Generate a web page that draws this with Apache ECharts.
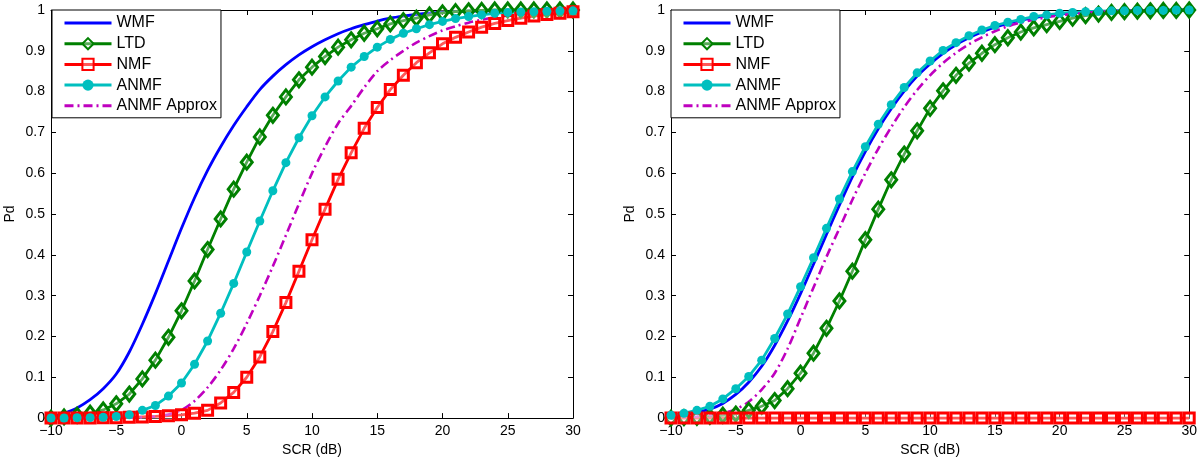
<!DOCTYPE html>
<html>
<head>
<meta charset="utf-8">
<script src="https://cdn.jsdelivr.net/npm/echarts@6/dist/echarts.min.js"></script>
<style>
html,body{margin:0;padding:0;background:#fff;}
#c{width:1200px;height:462px;}
</style>
</head>
<body>
<div id="c"></div>
<script>
// ---- data ----
const scr = [-10,-9,-8,-7,-6,-5,-4,-3,-2,-1,0,1,2,3,4,5,6,7,8,9,10,11,12,13,14,15,16,17,18,19,20,21,22,23,24,25,26,27,28,29,30];
const xTicks = [-10,-5,0,5,10,15,20,25,30];
const seriesNames = ['WMF','LTD','NMF','ANMF','ANMF Approx'];

// left panel
const wmfL = [0.003,0.012,0.025,0.045,0.072,0.108,0.162,0.23,0.305,0.385,0.465,0.54,0.607,0.665,0.717,0.763,0.805,0.838,0.866,0.89,0.91,0.927,0.942,0.954,0.964,0.973,0.98,0.985,0.989,0.992,0.994,0.996,0.997,0.998,0.998,0.999,0.999,0.999,1,1,1];
const ltdL = [0,0.003,0.007,0.012,0.02,0.035,0.059,0.096,0.142,0.198,0.263,0.336,0.413,0.488,0.561,0.627,0.689,0.742,0.787,0.829,0.86,0.886,0.909,0.927,0.943,0.954,0.966,0.974,0.98,0.988,0.993,0.996,0.998,0.999,1,1,1,1,1,1,1];
const nmfL = [0,0,0,0,0.001,0.001,0.002,0.003,0.004,0.006,0.008,0.012,0.019,0.037,0.063,0.1,0.15,0.212,0.283,0.36,0.437,0.512,0.585,0.65,0.71,0.761,0.805,0.84,0.871,0.895,0.917,0.933,0.946,0.958,0.967,0.974,0.98,0.985,0.989,0.992,0.996];
const anmfL = [0,0,0.001,0.001,0.002,0.004,0.008,0.019,0.031,0.054,0.086,0.132,0.189,0.257,0.33,0.407,0.483,0.557,0.626,0.687,0.741,0.787,0.826,0.86,0.886,0.909,0.928,0.943,0.954,0.964,0.972,0.979,0.984,0.988,0.992,0.994,0.995,0.996,0.997,0.998,0.998];
const approxL = [0,0,0,0,0,0,0.001,0.002,0.004,0.009,0.02,0.042,0.075,0.118,0.17,0.232,0.3,0.372,0.448,0.525,0.6,0.665,0.722,0.765,0.81,0.85,0.877,0.9,0.92,0.936,0.95,0.96,0.969,0.976,0.982,0.986,0.99,0.993,0.995,0.997,0.998];

// right panel
const wmfR = [0.003,0.008,0.014,0.022,0.036,0.058,0.088,0.127,0.178,0.238,0.305,0.377,0.45,0.522,0.591,0.653,0.709,0.758,0.801,0.838,0.868,0.894,0.915,0.932,0.946,0.958,0.967,0.975,0.981,0.986,0.99,0.993,0.995,0.996,0.997,0.998,0.999,0.999,0.999,1,1];
const ltdR = [0,0.001,0.002,0.004,0.007,0.01,0.019,0.029,0.043,0.072,0.11,0.159,0.22,0.287,0.36,0.437,0.512,0.584,0.647,0.704,0.759,0.802,0.84,0.87,0.894,0.915,0.932,0.946,0.956,0.964,0.972,0.98,0.986,0.99,0.994,0.996,0.997,0.998,0.999,0.999,1];
const nmfR = [0,0,0,0,0,0,0,0,0,0,0,0,0,0,0,0,0,0,0,0,0,0,0,0,0,0,0,0,0,0,0,0,0,0,0,0,0,0,0,0,0];
const anmfR = [0.007,0.012,0.019,0.029,0.047,0.072,0.102,0.142,0.195,0.255,0.322,0.393,0.465,0.537,0.604,0.665,0.72,0.768,0.81,0.846,0.875,0.901,0.92,0.937,0.951,0.962,0.97,0.977,0.984,0.988,0.992,0.994,0.996,0.997,0.998,0.998,0.999,0.999,0.999,1,1];
const approxR = [0.001,0.002,0.004,0.007,0.012,0.022,0.04,0.07,0.11,0.17,0.245,0.32,0.395,0.465,0.535,0.6,0.66,0.713,0.762,0.804,0.84,0.87,0.895,0.916,0.933,0.948,0.96,0.969,0.976,0.982,0.987,0.99,0.993,0.995,0.997,0.998,0.999,0.999,1,1,1];

// ---- chart ----
const FONT = '"Liberation Sans", Arial, Helvetica, sans-serif';
const pairs = arr => scr.map((x, i) => [x, arr[i]]);
const fmtX = v => String(v).replace('-', '\u2212');

const grids = [
  {left: 51, right: 627, top: 10, bottom: 43},
  {left: 671, right: 8, top: 10, bottom: 43}
];

const xAxes = [], yAxes = [];
grids.forEach((g, gi) => {
  const common = {
    gridIndex: gi, type: 'value', min: -10, max: 30, interval: 5,
    axisLine: {show: true, onZero: false, lineStyle: {color: '#000', width: 1}},
    axisTick: {show: true, inside: true, length: 5, lineStyle: {color: '#000'}},
    splitLine: {show: false}
  };
  xAxes.push(Object.assign({}, common, {
    position: 'bottom',
    name: 'SCR (dB)', nameLocation: 'middle', nameGap: 22,
    nameTextStyle: {color: '#000', fontFamily: FONT, fontSize: 14},
    axisLabel: {color: '#000', fontFamily: FONT, fontSize: 14, margin: 6, formatter: fmtX}
  }));
  xAxes.push(Object.assign({}, common, {position: 'top', axisLabel: {show: false}}));
  const ycommon = {
    gridIndex: gi, type: 'value', min: 0, max: 1, interval: 0.1,
    axisLine: {show: true, onZero: false, lineStyle: {color: '#000', width: 1}},
    axisTick: {show: true, inside: true, length: 5, lineStyle: {color: '#000'}},
    splitLine: {show: false}
  };
  yAxes.push(Object.assign({}, ycommon, {
    position: 'left',
    name: 'Pd', nameLocation: 'middle', nameGap: 34, nameRotate: 90,
    nameTextStyle: {color: '#000', fontFamily: FONT, fontSize: 14},
    axisLabel: {color: '#000', fontFamily: FONT, fontSize: 14, margin: 6,
      formatter: v => String(Math.round(v * 10) / 10)}
  }));
  yAxes.push(Object.assign({}, ycommon, {position: 'right', axisLabel: {show: false}}));
});

const styles = [
  {color: '#0000ff', symbol: 'none', lineType: 'solid'},
  {color: '#008000', symbol: 'diamond', symbolSize: [11, 14], hollow: true, lineType: 'solid'},
  {color: '#ff0000', symbol: 'rect', symbolSize: [10, 10], hollow: true, lineType: 'solid'},
  {color: '#00bfbf', symbol: 'circle', symbolSize: 9, hollow: false, lineType: 'solid'},
  {color: '#bf00bf', symbol: 'none', lineType: [9, 4, 2, 4]}
];

const panels = [
  [wmfL, ltdL, nmfL, anmfL, approxL],
  [wmfR, ltdR, nmfR, anmfR, approxR]
];

const series = [];
panels.forEach((arrs, pi) => {
  arrs.forEach((arr, si) => {
    const st = styles[si];
    const noSym = st.symbol === 'none';
    series.push({
      name: seriesNames[si], type: 'line',
      xAxisIndex: pi * 2, yAxisIndex: pi * 2,
      data: pairs(arr),
      smooth: noSym ? 0.3 : false,
      showSymbol: !noSym,
      symbol: noSym ? 'circle' : st.symbol,
      symbolSize: st.symbolSize || 8,
      lineStyle: {color: st.color, width: si === 4 ? 2.6 : 2.8, type: st.lineType},
      itemStyle: st.hollow
        ? {color: 'rgba(255,255,255,0.35)', borderColor: st.color, borderWidth: 3}
        : {color: st.color, borderColor: st.color, borderWidth: 0},
      emphasis: {disabled: true},
      animation: false,
      clip: false
    });
  });
});

const legendData = seriesNames.map((n, i) =>
  styles[i].symbol === 'none' ? {name: n, itemStyle: {opacity: 0}} : {name: n});

const legendCommon = {
  data: legendData,
  orient: 'vertical',
  top: 10,
  itemWidth: 47, itemHeight: 14, itemGap: 4.7,
  padding: [5, 4, 4, 11],
  borderColor: '#000', borderWidth: 1, borderRadius: 0,
  backgroundColor: '#fff',
  lineStyle: {width: 3},
  textStyle: {color: '#000', fontFamily: FONT, fontSize: 16},
  selectedMode: false
};

const chart = echarts.init(document.getElementById('c'), null, {renderer: 'canvas'});
chart.setOption({
  animation: false,
  backgroundColor: '#fff',
  grid: grids,
  xAxis: xAxes,
  yAxis: yAxes,
  legend: [
    Object.assign({}, legendCommon, {left: 52}),
    Object.assign({}, legendCommon, {left: 671})
  ],
  series: series
});
</script>
</body>
</html>
